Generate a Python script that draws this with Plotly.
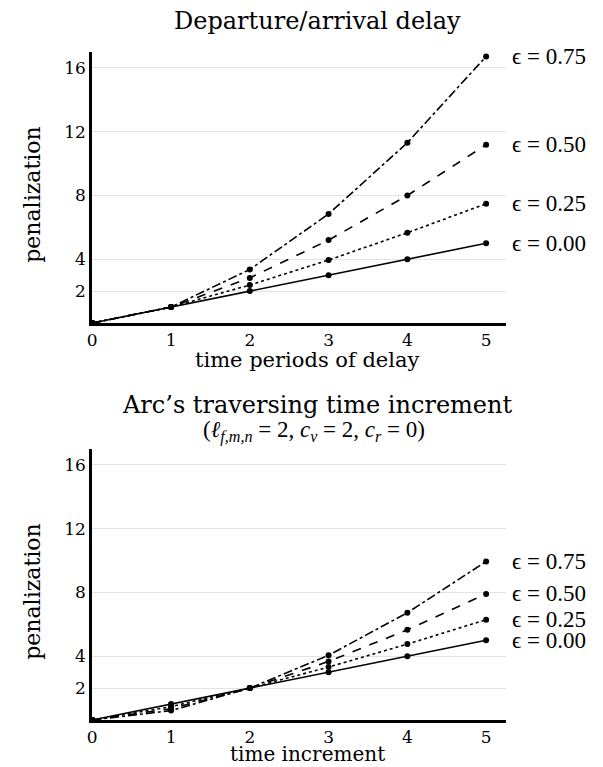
import plotly.graph_objects as go

# ---- data ----
t_periods = [0, 1, 2, 3, 4, 5]
eps_labels = ["ϵ = 0.00", "ϵ = 0.25", "ϵ = 0.50", "ϵ = 0.75"]
dashes = ["solid", "dot", "dash", "dashdot"]

delay_eps000 = [0, 1, 2.00, 3.00, 4.00, 5.00]
delay_eps025 = [0, 1, 2.38, 3.95, 5.66, 7.48]
delay_eps050 = [0, 1, 2.83, 5.20, 8.00, 11.18]
delay_eps075 = [0, 1, 3.36, 6.84, 11.31, 16.72]

incr_eps000 = [0, 1.00, 2, 3.00, 4.00, 5.00]
incr_eps025 = [0, 0.84, 2, 3.32, 4.76, 6.29]
incr_eps050 = [0, 0.71, 2, 3.67, 5.66, 7.91]
incr_eps075 = [0, 0.59, 2, 4.06, 6.73, 9.94]

y_ticks = [2, 4, 8, 12, 16]
x_ticks = [0, 1, 2, 3, 4, 5]

top_series = [delay_eps000, delay_eps025, delay_eps050, delay_eps075]
bot_series = [incr_eps000, incr_eps025, incr_eps050, incr_eps075]

FONT = "DejaVu Serif"
MATHFONT = "Liberation Serif"
H = 767.0
W = 603.0

fig = go.Figure()

for series, xa, ya in [(top_series, "x", "y"), (bot_series, "x2", "y2")]:
    for vals, dash in zip(series, dashes):
        fig.add_trace(go.Scatter(
            x=t_periods, y=vals, mode="lines+markers",
            line=dict(color="black", width=1.6, dash=dash),
            marker=dict(color="black", size=6),
            xaxis=xa, yaxis=ya, cliponaxis=False, showlegend=False,
        ))
    for vals, lab in zip(series, eps_labels):
        fig.add_annotation(
            x=t_periods[-1], y=vals[-1], xref=xa, yref=ya,
            text=lab, showarrow=False, xanchor="left", yanchor="middle",
            xshift=25, borderpad=0,
            font=dict(family=MATHFONT, size=23, color="black"),
        )

axis_common = dict(
    showline=True, linecolor="black", linewidth=3, mirror=False,
    ticks="", zeroline=False,
    tickfont=dict(family=FONT, size=17, color="black"),
)

x_dom = [88 / W, 505 / W]
fig.update_layout(
    width=603, height=767,
    margin=dict(l=0, r=0, t=0, b=0),
    paper_bgcolor="white", plot_bgcolor="white",
    xaxis=dict(domain=x_dom, range=[0, 5.25], tickvals=x_ticks, showgrid=False,
               anchor="y", **axis_common),
    yaxis=dict(domain=[1 - 323 / H, 1 - 52 / H], range=[0, 17], tickvals=y_ticks,
               showgrid=True, gridcolor="#e3e3e3", gridwidth=1, anchor="x",
               **axis_common),
    xaxis2=dict(domain=x_dom, range=[0, 5.25], tickvals=x_ticks, showgrid=False,
                anchor="y2", **axis_common),
    yaxis2=dict(domain=[1 - 720 / H, 1 - 449 / H], range=[0, 17], tickvals=y_ticks,
                showgrid=True, gridcolor="#e3e3e3", gridwidth=1, anchor="x2",
                **axis_common),
)

def text(xpx, ypx, s, size, font=FONT, angle=0):
    fig.add_annotation(x=xpx / W, y=1 - ypx / H, xref="paper", yref="paper",
                       text=s, showarrow=False, textangle=angle,
                       xanchor="center", yanchor="middle", borderpad=0,
                       font=dict(family=font, size=size, color="black"))

text(315, 21, "Departure/arrival delay", 24)
text(305, 360, "time periods of delay", 21)
text(27, 195, "penalization", 22, angle=-90)

text(315, 405, "Arc’s traversing time increment", 24)
text(312, 431,
     "(<i>ℓ</i><sub><i>f,m,n</i></sub> = 2, <i>c</i><sub><i>v</i></sub> = 2, "
     "<i>c</i><sub><i>r</i></sub> = 0)", 23, font=MATHFONT)
text(305, 754, "time increment", 20)
text(27, 592, "penalization", 22, angle=-90)

fig.write_html("out.html")
